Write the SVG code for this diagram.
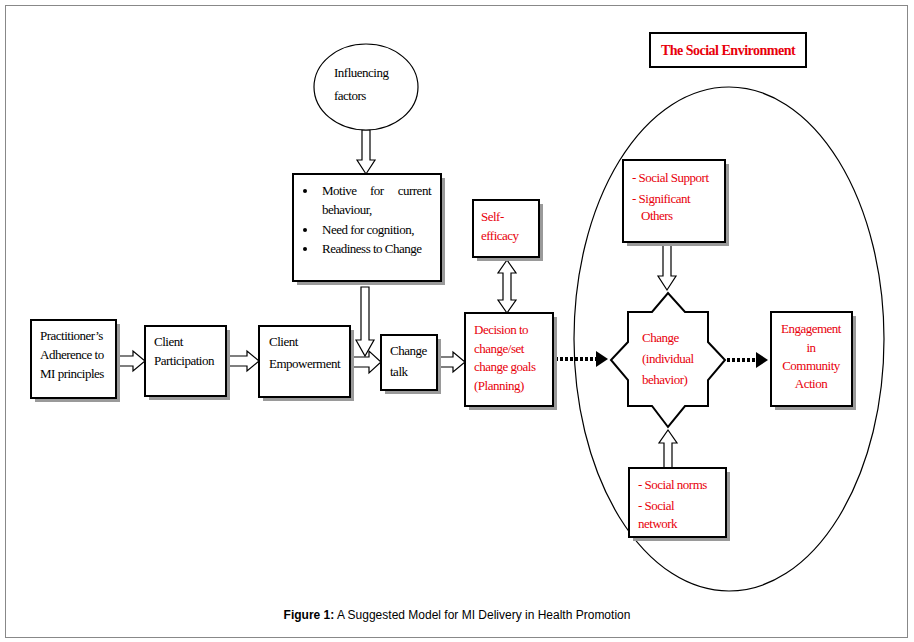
<svg xmlns="http://www.w3.org/2000/svg" width="914" height="642" viewBox="0 0 914 642">
<defs>
<style>
.b{fill:#fff;stroke:#000;stroke-width:2}
.s{fill:#9a9a9a}
.t{font-family:"Liberation Serif",serif;font-size:13px;fill:#000;letter-spacing:-0.5px}
.r{fill:#e8000b}
.a{fill:#fff;stroke:#000;stroke-width:1.2}
.d{stroke:#000;stroke-width:4;stroke-dasharray:3,2;fill:none}
</style>
<marker id="m" markerWidth="4" markerHeight="4" refX="2" refY="2" orient="auto"><path d="M0,0L3,2L0,4z" fill="#000"/></marker>
</defs>
<rect width="914" height="642" fill="#fff"/>
<rect x="5.5" y="5.5" width="902" height="632" fill="none" stroke="#888"/>
<ellipse cx="729" cy="339" rx="155" ry="252" fill="none" stroke="#000" stroke-width="1.2"/>
<g id="connectors">
<path class="a" d="M116,356H133V351L145,361L133,371V366H116Z"/>
<path class="a" d="M226,356H247V351L259,361L247,371V366H226Z"/>
<path class="a" d="M350,357H369V351L381,362L369,373V367H350Z"/>
<path class="a" d="M437,357H453V352L465,362L453,372V367H437Z"/>
<path class="a" d="M362,130V160H357L366,174L375,160H370V130Z"/>
<path class="a" d="M361,287V340H356L365,356L374,340H369V287Z"/>
<path class="a" d="M503,273V300H498L507,313L516,300H511V273H516L507,260L498,273Z"/>
<path class="a" d="M663,244V276H658L667,290L676,276H671V244Z"/>
<path class="a" d="M664,468V443H659L668,430L677,443H672V468Z"/>
<path class="d" d="M555,359H604" marker-end="url(#m)"/>
<path class="d" d="M727,360H764" marker-end="url(#m)"/>
</g>
<g id="practitioner"><rect class="s" x="35" y="324" width="85" height="78"/><rect class="b" x="31" y="320" width="85" height="78"/>
<text class="t"><tspan x="40" y="340">Practitioner’s</tspan><tspan x="40" y="359">Adherence to</tspan><tspan x="40" y="378">MI principles</tspan></text></g>
<g id="participation"><rect class="s" x="149" y="330" width="81" height="70"/><rect class="b" x="145" y="326" width="81" height="70"/>
<text class="t"><tspan x="154" y="346">Client</tspan><tspan x="154" y="365">Participation</tspan></text></g>
<g id="empowerment"><rect class="s" x="263" y="330" width="91" height="71"/><rect class="b" x="259" y="326" width="91" height="71"/>
<text class="t"><tspan x="269" y="346">Client</tspan><tspan x="269" y="368">Empowerment</tspan></text></g>
<g id="changetalk"><rect class="s" x="385" y="339" width="56" height="55"/><rect class="b" x="381" y="335" width="56" height="55"/>
<text class="t"><tspan x="390" y="355">Change</tspan><tspan x="390" y="376">talk</tspan></text></g>
<g id="decision"><rect class="s" x="469" y="317" width="88" height="93"/><rect class="b" x="465" y="313" width="88" height="93"/>
<text class="t r"><tspan x="474" y="334">Decision to</tspan><tspan x="474" y="353">change/set</tspan><tspan x="474" y="371">change goals</tspan><tspan x="474" y="390">(Planning)</tspan></text></g>
<g id="selfefficacy"><rect class="s" x="477" y="204" width="66" height="57"/><rect class="b" x="473" y="200" width="66" height="57"/>
<text class="t r"><tspan x="481" y="221">Self-</tspan><tspan x="481" y="240">efficacy</tspan></text></g>
<g id="influencing"><ellipse cx="366" cy="87" rx="52" ry="43" fill="#fff" stroke="#000" stroke-width="1.2"/>
<text class="t" font-size="14"><tspan x="334" y="77">Influencing</tspan><tspan x="334" y="100">factors</tspan></text></g>
<g id="factors"><rect class="s" x="297" y="178" width="148" height="107"/><rect class="b" x="293" y="174" width="148" height="107"/>
<g fill="#000"><circle cx="305" cy="191" r="2"/><circle cx="305" cy="230" r="2"/><circle cx="305" cy="249" r="2"/></g>
<text class="t"><tspan x="322" y="195">Motive</tspan><tspan x="370" y="195">for</tspan><tspan x="431" y="195" text-anchor="end">current</tspan><tspan x="322" y="214">behaviour,</tspan><tspan x="322" y="234">Need for cognition,</tspan><tspan x="322" y="253">Readiness to Change</tspan></text></g>
<g id="socialenv"><rect class="b" x="650" y="33" width="156" height="34" stroke="#222" stroke-width="1.2"/>
<text x="728" y="55" text-anchor="middle" font-family="Liberation Serif,serif" font-size="14" font-weight="bold" letter-spacing="-0.5" fill="#e8000b">The Social Environment</text></g>
<g id="support"><rect class="s" x="627" y="164" width="102" height="82"/><rect class="b" x="623" y="160" width="102" height="82"/>
<text class="t r"><tspan x="632" y="182">-  Social Support</tspan><tspan x="632" y="203">-  Significant</tspan><tspan x="641" y="220">Others</tspan></text></g>
<g id="change"><path d="M628,312H652L668,293L685,312H708V342L725,360L708,380V406H685L668,427L652,406H628V380L611,360L628,342Z" fill="#fff" stroke="#000" stroke-width="2"/>
<text class="t r"><tspan x="642" y="342">Change</tspan><tspan x="642" y="363">(individual</tspan><tspan x="642" y="384">behavior)</tspan></text></g>
<g id="engagement"><rect class="s" x="775" y="316" width="81" height="94"/><rect class="b" x="771" y="312" width="81" height="94"/>
<text class="t r" text-anchor="middle"><tspan x="811" y="333">Engagement</tspan><tspan x="811" y="352">in</tspan><tspan x="811" y="370">Community</tspan><tspan x="811" y="388">Action</tspan></text></g>
<g id="norms"><rect class="s" x="633" y="472" width="97" height="69"/><rect class="b" x="629" y="468" width="97" height="69"/>
<text class="t r"><tspan x="638" y="489">-  Social norms</tspan><tspan x="638" y="510">-  Social</tspan><tspan x="638" y="528">network</tspan></text></g>
<text x="457" y="619" text-anchor="middle" font-family="Liberation Sans,Arial,sans-serif" font-size="12"><tspan font-weight="bold">Figure 1:</tspan> A Suggested Model for MI Delivery in Health Promotion</text>
</svg>
